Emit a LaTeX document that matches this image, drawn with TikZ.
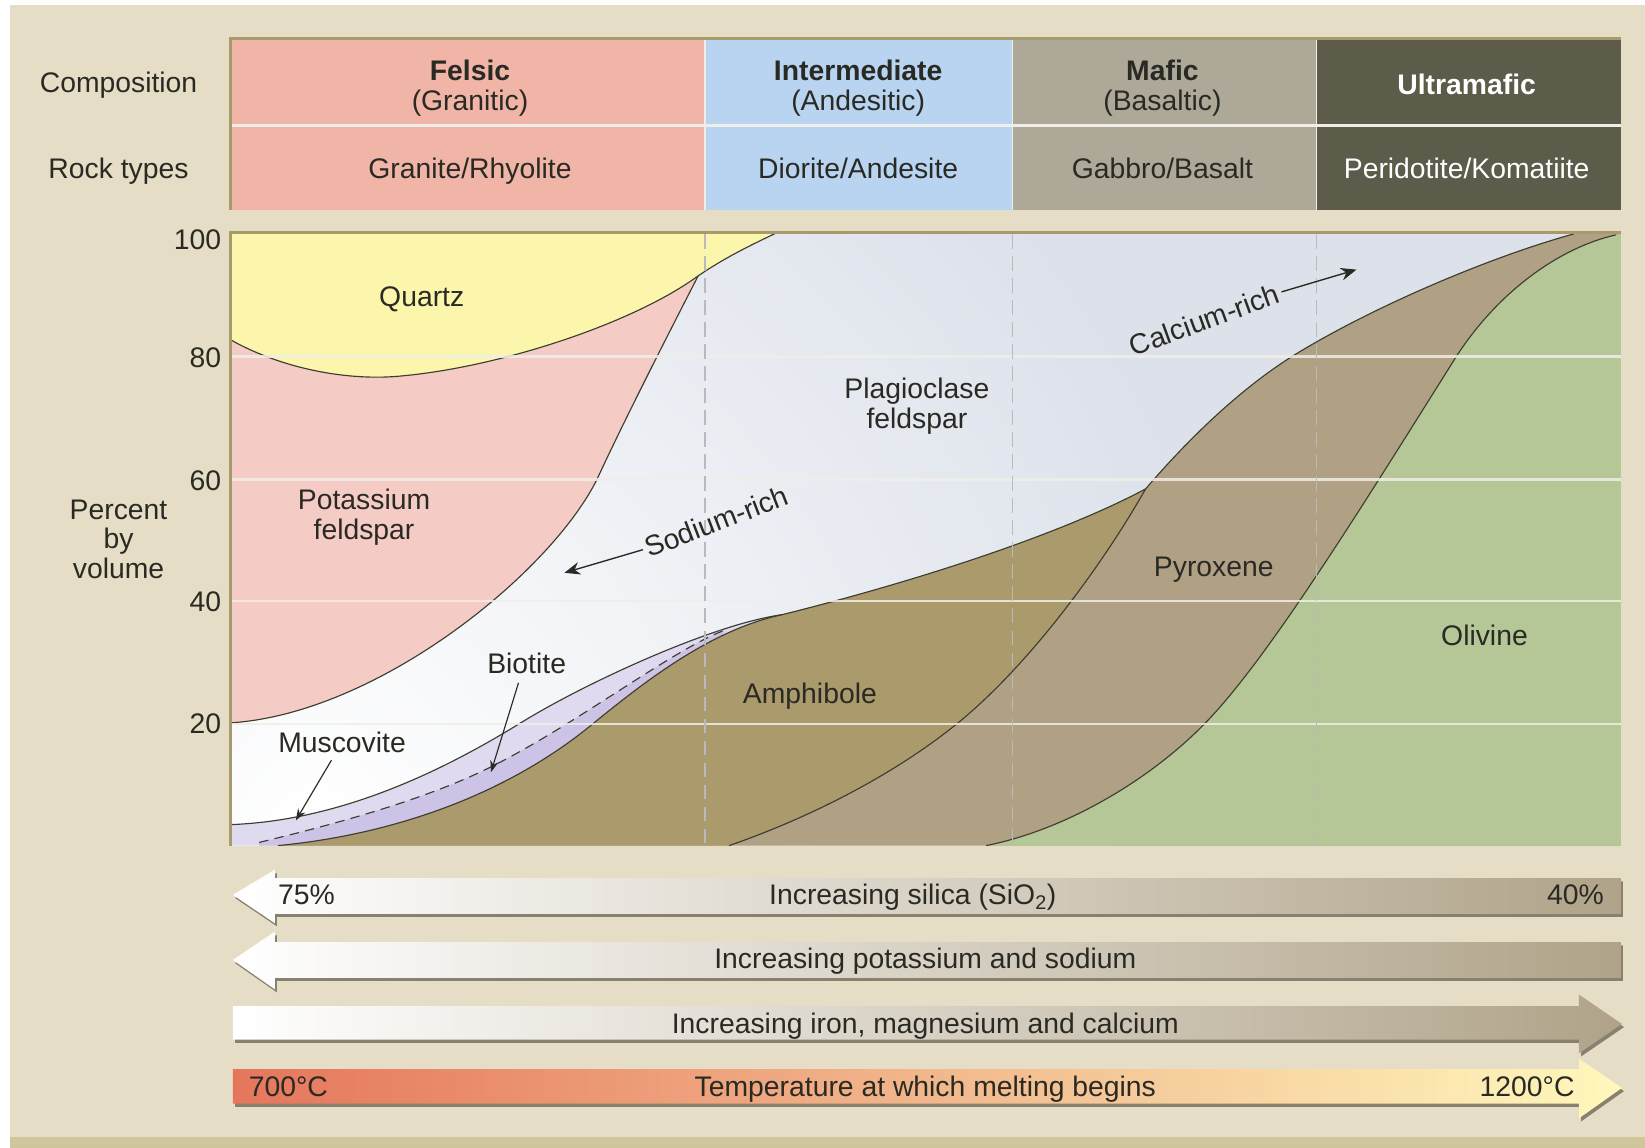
\documentclass[tikz,border=0pt]{standalone}
\usepackage{fontspec}
\setmainfont{Liberation Sans}
\usetikzlibrary{arrows.meta}
\definecolor{panel}{RGB}{229,221,197}
\definecolor{panelstrip}{RGB}{208,198,156}
\definecolor{frameol}{RGB}{168,154,106}
\definecolor{felsic}{RGB}{240,181,166}
\definecolor{interm}{RGB}{184,212,240}
\definecolor{mafic}{RGB}{173,168,151}
\definecolor{ultra}{RGB}{93,92,74}
\definecolor{quartz}{RGB}{252,246,172}
\definecolor{kfs}{RGB}{245,204,197}
\definecolor{plag}{RGB}{220,225,234}
\definecolor{musc}{RGB}{224,218,240}
\definecolor{biot}{RGB}{205,195,231}
\definecolor{amph}{RGB}{170,154,108}
\definecolor{pyx}{RGB}{176,161,133}
\definecolor{oliv}{RGB}{181,199,150}
\definecolor{ink}{RGB}{42,42,36}
\definecolor{edge}{RGB}{62,62,48}
\definecolor{gridc}{RGB}{240,238,232}
\definecolor{dashc}{RGB}{185,186,190}
\definecolor{taupe}{RGB}{176,163,137}
\definecolor{taupemid}{RGB}{222,214,199}
\definecolor{shadowc}{RGB}{120,114,98}
\definecolor{hot}{RGB}{229,118,92}
\definecolor{warm}{RGB}{245,192,150}
\definecolor{cool}{RGB}{255,248,188}
\begin{document}
\begin{tikzpicture}[x=1pt,y=-1pt,font=\fontsize{27}{28}\selectfont,
  bd/.style={draw=edge,line width=1.1pt},
  lbl/.style={text=ink,inner sep=3pt,align=center},
  one/.style={text height=19.5pt,text depth=5.5pt},
  ptr/.style={draw=ink,line width=1.3pt,-{Stealth[length=15pt,width=12pt]}},
  sptr/.style={draw=ink,line width=1.1pt,-{Stealth[length=11pt,width=8pt]}},
  gridl/.style={draw=gridc,line width=2.5pt,opacity=0.85},
  vdash/.style={draw=dashc,line width=1.6pt,dash pattern=on 14pt off 7pt},
  barshadow/.style={fill=shadowc,opacity=0.85}]
\useasboundingbox (0,0) rectangle (1568,1094);
\fill[white] (0,0) rectangle (1568,1094);
\fill[panel] (10,5) rectangle (1568,1094);
\fill[panelstrip] (10,1084) rectangle (1568,1094);

% ---------- table ----------
\fill[felsic] (220,37) rectangle (672,200);
\fill[interm] (672,37) rectangle (965,200);
\fill[mafic] (965,37) rectangle (1255,200);
\fill[ultra] (1255,37) rectangle (1545,200);
\draw[gridc,line width=3pt] (220,120) -- (1545,120);
\foreach \xx in {672,965,1255} \draw[gridc,line width=1.5pt] (\xx,37) -- (\xx,200);
\draw[frameol,line width=3pt] (220,200) -- (220,37) -- (1545,37);

\node[lbl,one] (comp) at (113,81) {Composition};
\node[lbl,one] (rock) at (113,163) {Rock types};
\node[lbl] (fel) at (448,84) {\textbf{Felsic}\\(Granitic)};
\node[lbl] (int) at (818,84) {\textbf{Intermediate}\\(Andesitic)};
\node[lbl] (maf) at (1108,84) {\textbf{Mafic}\\(Basaltic)};
\node[lbl,one,text=white] (ult) at (1398,83) {\textbf{Ultramafic}};
\node[lbl,one] (gra) at (448,163) {Granite/Rhyolite};
\node[lbl,one] (dio) at (818,163) {Diorite/Andesite};
\node[lbl,one] (gab) at (1108,163) {Gabbro/Basalt};
\node[lbl,one,text=white] (per) at (1398,163) {Peridotite/Komatiite};

% ---------- chart ----------
\begin{scope}
\clip (220,223) rectangle (1545,806);
\fill[plag] (220,223) rectangle (1545,806);
\shade[inner color=white, outer color=plag] (300,790) circle (900);
% potassium feldspar
\fill[kfs] (220,223) -- (686,223) .. controls (650,293) and (600,390) .. (569,457) .. controls (524,547) and (360,680) .. (220,689) -- cycle;
\draw[bd] (686,223) .. controls (650,293) and (600,390) .. (569,457) .. controls (524,547) and (360,680) .. (220,689);
% quartz
\fill[quartz] (220,223) -- (220,324) .. controls (270,352) and (330,362) .. (375,359) .. controls (470,352) and (600,310) .. (664,264) .. controls (690,246) and (715,234) .. (740,222) -- cycle;
\draw[bd] (220,324) .. controls (270,352) and (330,362) .. (375,359) .. controls (470,352) and (600,310) .. (664,264) .. controls (690,246) and (715,234) .. (740,222);
% muscovite / biotite band
\fill[musc] (220,806) -- (220,786) .. controls (330,782) and (430,730) .. (498,688) .. controls (560,650) and (680,595) .. (745,586) -- (745,806) -- cycle;
\fill[biot] (247,806) -- (247,803) .. controls (330,783) and (410,760) .. (468,731) .. controls (550,690) and (640,620) .. (690,601) -- (690,806) -- cycle;
% pyroxene envelope
\fill[pyx] (265,806) .. controls (370,796) and (480,760) .. (565,690) .. controls (620,645) and (680,600) .. (745,586) .. controls (850,560) and (1000,515) .. (1092,466) .. controls (1140,410) and (1190,365) .. (1236,337) .. controls (1310,292) and (1420,245) .. (1500,223) -- (1545,223) -- (1545,806) -- cycle;
\begin{scope}
\clip (265,806) .. controls (370,796) and (480,760) .. (565,690) .. controls (620,645) and (680,600) .. (745,586) .. controls (850,560) and (1000,515) .. (1092,466) .. controls (1140,410) and (1190,365) .. (1236,337) .. controls (1310,292) and (1420,245) .. (1500,223) -- (1545,223) -- (1545,806) -- cycle;
\fill[amph] (220,806) -- (695,806) .. controls (770,780) and (850,740) .. (912,690) .. controls (980,635) and (1050,540) .. (1092,466) -- (1092,400) -- (220,400) -- cycle;
\end{scope}
\fill[oliv] (940,806) .. controls (1020,790) and (1100,740) .. (1150,688) .. controls (1210,626) and (1300,480) .. (1388,340) .. controls (1430,275) and (1490,235) .. (1540,224) -- (1545,223) -- (1545,806) -- cycle;
% boundaries
\draw[bd] (220,786) .. controls (330,782) and (430,730) .. (498,688) .. controls (560,650) and (680,595) .. (745,586);
\draw[bd,dash pattern=on 9pt off 6pt] (247,803) .. controls (330,783) and (410,760) .. (468,731) .. controls (550,690) and (640,620) .. (690,601);
\draw[bd] (265,806) .. controls (370,796) and (480,760) .. (565,690) .. controls (620,645) and (680,600) .. (745,586) .. controls (850,560) and (1000,515) .. (1092,466) .. controls (1140,410) and (1190,365) .. (1236,337) .. controls (1310,292) and (1420,245) .. (1500,223);
\draw[bd] (695,806) .. controls (770,780) and (850,740) .. (912,690) .. controls (980,635) and (1050,540) .. (1092,466);
\draw[bd] (940,806) .. controls (1020,790) and (1100,740) .. (1150,688) .. controls (1210,626) and (1300,480) .. (1388,340) .. controls (1430,275) and (1490,235) .. (1540,224);
% grid
\foreach \yy in {340,457,573,690} \draw[gridl] (220,\yy) -- (1545,\yy);
\foreach \xx in {672,965,1255} \draw[vdash] (\xx,223) -- (\xx,806);
\end{scope}
\draw[frameol,line width=3pt] (220,806) -- (220,222) -- (1545,222);

% axis labels
\node[lbl,anchor=east] (t100) at (214,229) {100};
\node[lbl,anchor=east] (t80) at (214,341) {80};
\node[lbl,anchor=east] (t60) at (214,458) {60};
\node[lbl,anchor=east] (t40) at (214,574) {40};
\node[lbl,anchor=east] (t20) at (214,690) {20};
\node[lbl] (pbv) at (113,514) {Percent\\by\\volume};

% mineral labels
\node[lbl] (qtz) at (402,285) {Quartz};
\node[lbl] (kf) at (347,493) {Potassium\\feldspar};
\node[lbl] (pl) at (874,387) {Plagioclase\\feldspar};
\node[lbl] (amp) at (772,664) {Amphibole};
\node[lbl] (pyr) at (1157,543) {Pyroxene};
\node[lbl] (oli) at (1415,606) {Olivine};
\node[lbl] (bio) at (502,632) {Biotite};
\node[lbl] (mus) at (326,708) {Muscovite};
\node[lbl,rotate=21] (sod) at (683,497) {Sodium-rich};
\node[lbl,rotate=20] (cal) at (1148,305) {Calcium-rich};
\coordinate (sodtip) at (538,546);
\coordinate (caltip) at (1293,257);
\coordinate (biotip) at (468,736);
\coordinate (mustip) at (282,782);
\draw[ptr] (sod.west) -- (sodtip);
\draw[ptr] (cal.east) -- (caltip);
\draw[sptr,shorten <=6pt] ([xshift=-6pt]bio.south) -- (biotip);
\draw[sptr,shorten <=4pt] ([xshift=-8pt]mus.south) -- (mustip);

% ---------- bottom arrows ----------
\begin{scope}[shift={(2,3)}]
\fill[barshadow] (222,853) -- (262,829) -- (262,837) -- (1545,837) -- (1545,871) -- (262,871) -- (262,880) -- cycle;
\fill[barshadow] (222,915) -- (262,888) -- (262,898) -- (1545,898) -- (1545,932) -- (262,932) -- (262,943) -- cycle;
\fill[barshadow] (222,959) -- (1505,959) -- (1505,948) -- (1546,976) -- (1505,1004) -- (1505,991) -- (222,991) -- cycle;
\fill[barshadow] (222,1019) -- (1505,1019) -- (1505,1009) -- (1546,1037) -- (1505,1066) -- (1505,1052) -- (222,1052) -- cycle;
\end{scope}
\shade[left color=white, middle color=taupemid, right color=taupe] (222,853) -- (262,829) -- (262,837) -- (1545,837) -- (1545,871) -- (262,871) -- (262,880) -- cycle;
\shade[left color=white, middle color=taupemid, right color=taupe] (222,915) -- (262,888) -- (262,898) -- (1545,898) -- (1545,932) -- (262,932) -- (262,943) -- cycle;
\shade[left color=white, middle color=taupemid, right color=taupe] (222,959) -- (1505,959) -- (1505,948) -- (1546,976) -- (1505,1004) -- (1505,991) -- (222,991) -- cycle;
\shade[left color=hot, middle color=warm, right color=cool] (222,1019) -- (1505,1019) -- (1505,1009) -- (1546,1037) -- (1505,1066) -- (1505,1052) -- (222,1052) -- cycle;

\node[lbl,one,anchor=west] (p75) at (262,855) {75\%};
\node[lbl,one] (sil) at (870,855) {Increasing silica (SiO\textsubscript{2})};
\node[lbl,one,anchor=east] (p40) at (1532,855) {40\%};
\node[lbl,one] (kna) at (882,916) {Increasing potassium and sodium};
\node[lbl,one] (fem) at (882,978) {Increasing iron, magnesium and calcium};
\node[lbl,one,anchor=west] (t700) at (234,1038) {700°C};
\node[lbl,one] (tmp) at (882,1038) {Temperature at which melting begins};
\node[lbl,one,anchor=east] (t1200) at (1504,1038) {1200°C};
\end{tikzpicture}
\end{document}
